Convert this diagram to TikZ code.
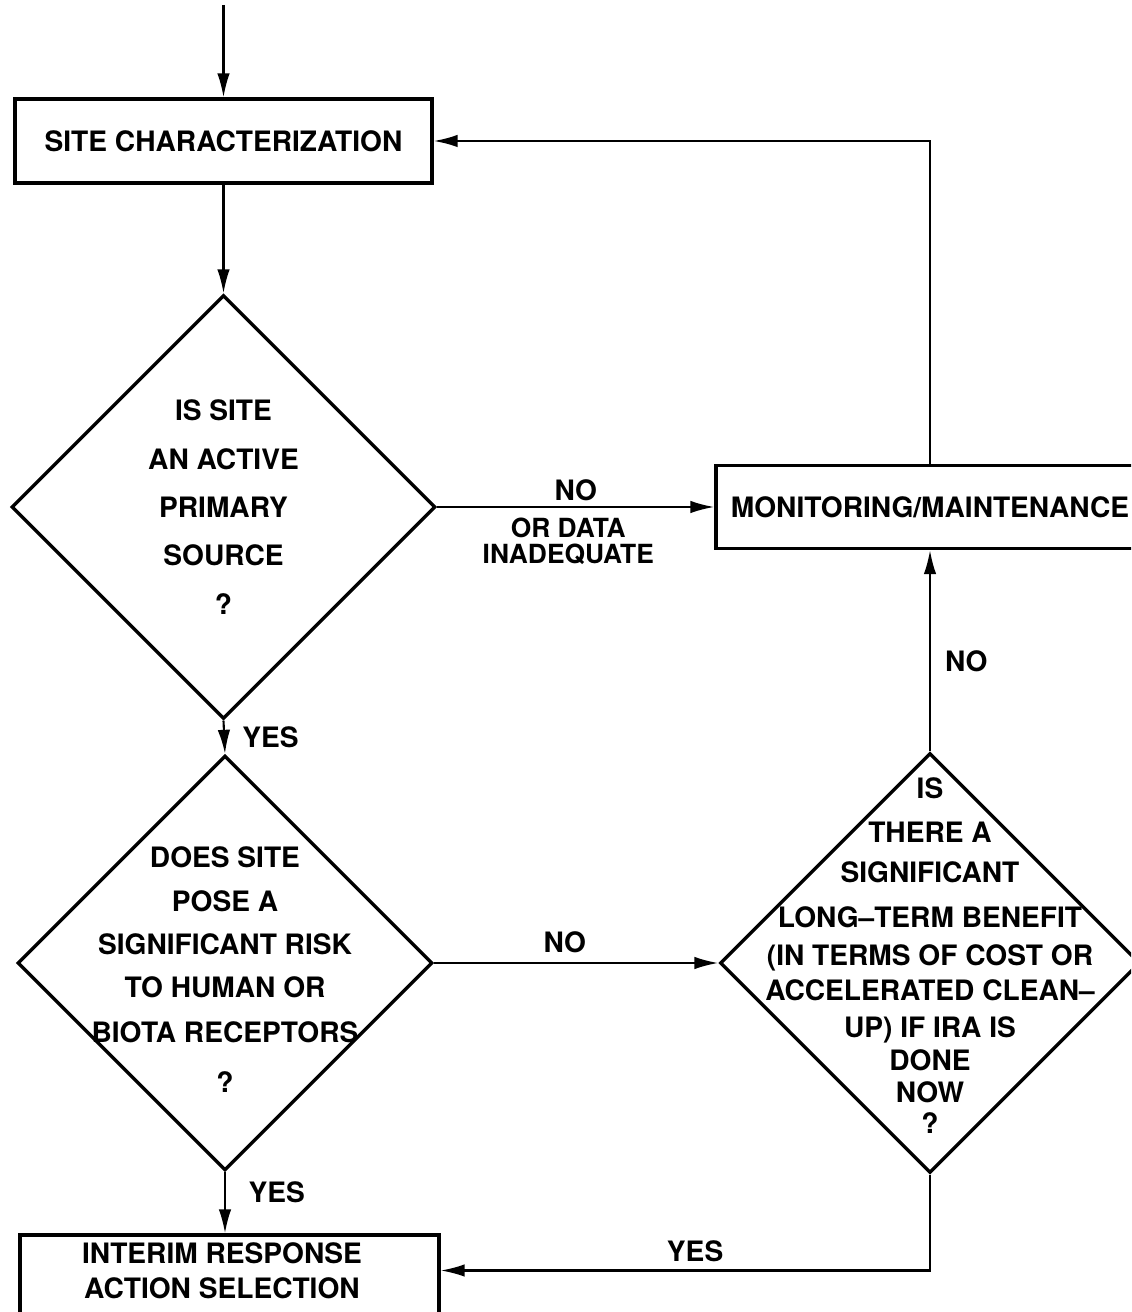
\documentclass[tikz,border=0pt]{standalone}
\usepackage{fontspec}
\setmainfont{TeX Gyre Heros}
\usepackage{tikz}
\usetikzlibrary{arrows.meta}
\usetikzlibrary{shapes.geometric}
\usetikzlibrary{positioning}
\tikzset{>={Latex[length=0.48cm, width=0.25cm]}}
\tikzstyle{box} = [rectangle, draw, line width=1.9pt, inner sep=0]
\tikzstyle{decision} = [diamond, draw, line width=1.9pt, aspect=1, inner sep=0]
\tikzstyle{txt} = [draw=none, align=center, inner sep=0]
\tikzstyle{flow} = [->, line width=1.2pt]

\begin{document}
\begin{tikzpicture}[font=\bfseries\fontsize{16}{20}\selectfont]
\useasboundingbox (0,0) rectangle (22.62,26.24);
\clip (0,0) rectangle (22.62,26.24);
%boxes and decisions
\coordinate (start) at (4.47, 26.14);
\node [box, minimum width=8.34cm, minimum height=1.68cm] (site) at (4.47, 23.42) {SITE CHARACTERIZATION};
\node [decision, minimum width=8.48cm, minimum height=8.48cm] (d1) at (4.47, 16.10) {};
\node [txt, font=\bfseries\fontsize{16}{27.5}\selectfont] (d1text) at (4.47, 16.10) {IS SITE\\AN ACTIVE\\PRIMARY\\SOURCE\\?};
\node [box, minimum width=8.56cm, minimum height=1.66cm] (mon) at (18.60, 16.10) {MONITORING/MAINTENANCE};
\node [decision, minimum width=8.3cm, minimum height=8.3cm] (d2) at (4.50, 6.98) {};
\node [txt, font=\bfseries\fontsize{16}{24.5}\selectfont] (d2text) at (4.50, 6.84) {DOES SITE\\POSE A\\SIGNIFICANT RISK\\TO HUMAN OR\\[1.5pt]BIOTA RECEPTORS\\[4pt]?};
\node [decision, minimum width=8.4cm, minimum height=8.4cm] (d3) at (18.60, 6.98) {};
\node [txt, font=\bfseries\fontsize{16}{18}\selectfont] (d3text) at (18.60, 7.13) {IS\\[7pt]THERE A\\[5pt]SIGNIFICANT\\[7.5pt]LONG–TERM BENEFIT\\[3.5pt](IN TERMS OF COST OR\\[2pt]ACCELERATED CLEAN–\\[3pt]UP) IF IRA IS\\[1pt]DONE\\NOW\\?};
\node [box, minimum width=8.38cm, minimum height=1.9cm] (irs) at (4.59, 0.59) {};
\node [txt] (irstext) at (4.44, 0.83) {INTERIM RESPONSE\\ACTION SELECTION};
%connectors
\draw [flow] (start) -- (site.north);
\draw [flow] (site.south) -- (d1.north);
\draw [flow] (d1.east) -- node[txt, above=0.1cm] (no1) {NO} node[txt, below=0.2cm, xshift=-0.15cm, font=\bfseries\fontsize{15}{15}\selectfont] (nodata) {OR DATA\\INADEQUATE} (mon.west);
\draw [flow] (mon.north) |- (site.east);
\draw [flow] (d1.south) -- node[txt, right=0.34cm] (yes1) {YES} (d2.north);
\draw [flow] (d2.east) -- node[txt, above=0.18cm, xshift=-0.23cm] (no2) {NO} (d3.west);
\draw [flow] (d3.north) -- node[txt, pos=0.45, right=0.28cm] (no3) {NO} (mon.south);
\draw [flow] (d2.south) -- node[txt, pos=0.33, right=0.45cm] (yes2) {YES} (d2.south |- irs.north);
\draw [flow] (d3.south) |- node[txt, pos=0.74, above=0.16cm] (yes3) {YES} (irs.east |- irstext);
\end{tikzpicture}
\end{document}
